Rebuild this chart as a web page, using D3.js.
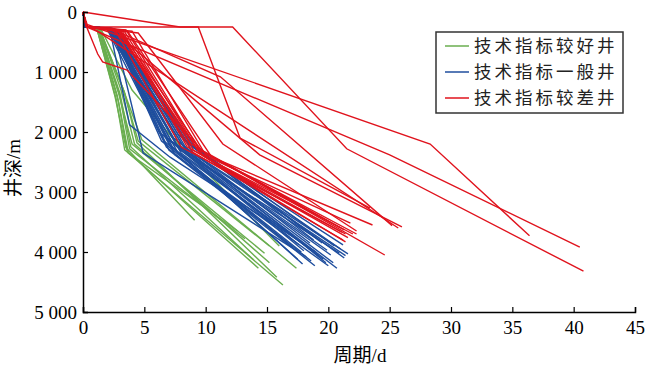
<!DOCTYPE html>
<html>
<head>
<meta charset="utf-8">
<script src="https://cdn.jsdelivr.net/npm/d3@7"></script>
<style>
  html, body { margin: 0; padding: 0; background: #fff; }
  svg { display: block; }
</style>
</head>
<body>
<svg id="chart" width="650" height="372"></svg>
<script>
// ---------- data: [days, depth(m)] ----------
const xTicks = [0, 5, 10, 15, 20, 25, 30, 35, 40, 45];
const yTicks = [0, 1000, 2000, 3000, 4000, 5000];
const yTickLabels = ["0", "1 000", "2 000", "3 000", "4 000", "5 000"];
const seriesNames = ["技术指标较好井", "技术指标一般井", "技术指标较差井"];
const seriesColors = ["#6aae4f", "#1f4e9e", "#e0131d"];

const goodWells = [
  [[0,0],[0.2,250],[1.1,250],[2.7,1450],[3.4,2300],[16.3,4550]],
  [[0,0],[0.2,250],[1.2,250],[2.8,1400],[3.6,2320],[14.3,4270]],
  [[0,0],[0.2,250],[1.2,250],[3.0,1350],[3.9,2250],[13.9,4130]],
  [[0,0],[0.2,250],[1.3,250],[3.1,1300],[4.2,2200],[15.2,4180]],
  [[0,0],[0.2,250],[1.3,250],[3.3,1300],[4.5,2150],[15.2,3900]],
  [[0,0],[0.2,250],[1.2,250],[3.2,1250],[4.8,2130],[17.4,4270]],
  [[0,0],[0.2,250],[1.1,250],[2.6,1400],[3.5,2260],[9.1,3470]],
  [[0,0],[0.2,250],[1.2,250],[3.0,1400],[3.8,2280],[13.2,3780]],
  [[0,0],[0.2,250],[1.4,260],[4.0,1300],[7.3,2100],[16.0,3900]],
  [[0,0],[0.2,250],[1.2,250],[2.9,1350],[4.0,2200],[14.8,4020]],
  [[0,0],[0.2,250],[1.3,250],[3.4,1350],[4.4,2180],[15.8,4420]],
  [[0,0],[0.2,250],[1.1,250],[2.9,1500],[3.7,2350],[12.6,3650]]
];

const normalWells = [
  [[0,0],[0.2,250],[1.8,270],[2.0,300],[6.6,2150],[17.1,3930]],
  [[0,0],[0.2,250],[1.9,270],[2.2,300],[7.0,2200],[17.5,4120]],
  [[0,0],[0.2,250],[1.8,260],[2.1,290],[7.3,2250],[17.9,4200]],
  [[0,0],[0.2,250],[2.0,270],[2.3,310],[7.6,2200],[19.9,3970]],
  [[0,0],[0.2,250],[2.1,270],[2.4,300],[7.9,2300],[20.9,4020]],
  [[0,0],[0.2,250],[2.2,270],[2.5,320],[8.2,2250],[21.6,4030]],
  [[0,0],[0.2,250],[1.9,270],[2.2,300],[8.0,2350],[19.6,4120]],
  [[0,0],[0.2,250],[2.2,270],[2.6,300],[8.5,2300],[19.8,4180]],
  [[0,0],[0.2,250],[1.8,260],[2.0,280],[8.7,2400],[20.7,4270]],
  [[0,0],[0.2,250],[2.0,270],[2.3,300],[7.2,2150],[20.2,4050]],
  [[0,0],[0.2,250],[2.1,270],[2.4,310],[7.4,2100],[18.5,3850]],
  [[0,0],[0.2,250],[1.8,270],[2.1,300],[6.9,2100],[17.6,3880]],
  [[0,0],[0.2,250],[1.9,270],[2.2,300],[3.8,1880],[7.1,2420],[19.0,4000]],
  [[0,0],[0.2,250],[2.2,270],[2.5,300],[4.9,2350],[18.2,4080]],
  [[0,0],[0.2,250],[2.3,270],[2.6,320],[9.0,2250],[21.0,3950]],
  [[0,0],[0.2,250],[2.4,270],[2.7,300],[9.3,2300],[21.2,3880]],
  [[0,0],[0.2,250],[1.9,270],[2.2,290],[8.3,2150],[19.5,3850]],
  [[0,0],[0.2,250],[2.1,270],[2.4,300],[7.8,2050],[18.8,3800]],
  [[0,0],[0.2,250],[2.0,270],[2.3,300],[8.8,2200],[20.5,3900]],
  [[0,0],[0.2,250],[2.2,270],[2.5,310],[6.2,2000],[18.0,3980]],
  [[0,0],[0.2,250],[2.0,270],[2.4,300],[7.5,2380],[20.0,4230]],
  [[0,0],[0.2,250],[1.9,270],[2.3,290],[6.8,2250],[18.6,4150]],
  [[0,0],[0.2,250],[2.3,270],[2.7,320],[8.6,2200],[21.3,4100]],
  [[0,0],[0.2,250],[2.1,270],[2.5,300],[8.1,2280],[20.4,4180]],
  [[0,0],[0.2,250],[1.8,270],[2.1,300],[7.7,2330],[19.2,4060]],
  [[0,0],[0.2,250],[2.2,270],[2.6,300],[9.1,2380],[21.4,4060]],
  [[0,0],[0.2,250],[2.0,270],[2.4,310],[6.4,2150],[17.8,4000]],
  [[0,0],[0.2,250],[2.1,270],[2.5,300],[7.0,2300],[18.9,4230]]
];

const poorWells = [
  [[0,0],[0.4,250],[12.2,250],[21.5,2280],[40.8,4320]],
  [[0,0],[7.9,250],[9.4,250],[12.8,2100],[23.4,3270]],
  [[0,0],[0.2,200],[28.3,2200],[36.4,3730]],
  [[0,0],[0.3,250],[25.0,2380],[40.5,3920]],
  [[0,0],[0.3,250],[2.2,270],[14.4,2380],[26.0,3580]],
  [[0,0],[0.3,250],[0.8,270],[25.7,3600]],
  [[0,0],[0.3,250],[4.5,350],[11.4,2200],[22.3,3650]],
  [[0,0],[0.3,250],[2.4,290],[11.2,1080],[25.2,3560]],
  [[0,0],[0.3,250],[1.2,700],[1.6,830],[3.6,970],[9.9,2350],[22.3,3700]],
  [[0,0],[0.3,250],[3.0,300],[8.5,2250],[21.1,3670]],
  [[0,0],[0.3,250],[3.2,320],[9.0,2300],[21.4,3830]],
  [[0,0],[0.3,250],[2.8,300],[9.5,2350],[21.8,3520]],
  [[0,0],[0.3,250],[3.5,300],[9.8,2400],[22.0,3700]],
  [[0,0],[0.3,250],[3.0,330],[8.8,2200],[21.3,3630]],
  [[0,0],[0.3,250],[4.0,320],[10.2,2450],[21.6,3760]],
  [[0,0],[0.3,250],[3.3,300],[9.3,2280],[21.0,3600]],
  [[0,0],[0.3,250],[2.6,290],[8.0,2250],[21.4,3700]],
  [[0,0],[0.3,250],[3.6,310],[10.5,2420],[23.6,3550]],
  [[0,0],[0.3,250],[3.0,300],[9.6,2300],[24.6,4050]],
  [[0,0],[0.3,250],[2.9,310],[8.9,2330],[21.2,3800]]
];

// ---------- layout ----------
const svg = d3.select("#chart");
const latinFont = "'Liberation Serif', 'Times New Roman', 'Noto Sans CJK SC', serif";
const x = d3.scaleLinear().domain([0, 45]).range([83, 635]);
const y = d3.scaleLinear().domain([0, 5000]).range([12, 312]);

const line = d3.line().x(d => x(d[0])).y(d => y(d[1]));

const groups = [goodWells, normalWells, poorWells];
groups.forEach((wells, gi) => {
  svg.append("g")
    .selectAll("path")
    .data(wells)
    .join("path")
    .attr("d", line)
    .attr("fill", "none")
    .attr("stroke", seriesColors[gi])
    .attr("stroke-width", 1.4)
    .attr("stroke-linejoin", "miter");
});

// axes
const xAxis = d3.axisBottom(x).tickValues(xTicks).tickSize(-5).tickPadding(9).tickFormat(d3.format("d"));
const gx = svg.append("g").attr("transform", `translate(0,${y(5000)})`).call(xAxis);
const yAxis = d3.axisLeft(y).tickValues(yTicks).tickSize(-5).tickPadding(6)
  .tickFormat((d, i) => yTickLabels[i]);
const gy = svg.append("g").attr("transform", `translate(${x(0)},0)`).call(yAxis);

[gx, gy].forEach(g => {
  g.select(".domain").attr("stroke", "#000").attr("stroke-width", 1.5);
  g.selectAll(".tick line").attr("stroke", "#000").attr("stroke-width", 1.2);
  g.selectAll(".tick text").attr("fill", "#000").style("font-family", latinFont).style("font-size", "19px");
});

// axis titles
svg.append("text")
  .attr("x", 360).attr("y", 362)
  .attr("text-anchor", "middle")
  .style("font-family", latinFont).style("font-size", "19px")
  .text("周期/d");

svg.append("text")
  .attr("transform", "translate(20,168) rotate(-90)")
  .attr("text-anchor", "middle")
  .style("font-family", latinFont).style("font-size", "19px")
  .text("井深/m");

// legend
const lg = svg.append("g");
lg.append("rect")
  .attr("x", 436).attr("y", 32).attr("width", 187).attr("height", 81)
  .attr("fill", "#fff").attr("stroke", "#333").attr("stroke-width", 1.5);
seriesNames.forEach((name, i) => {
  const yy = 46 + i * 26;
  lg.append("line")
    .attr("x1", 445).attr("x2", 469).attr("y1", yy).attr("y2", yy)
    .attr("stroke", seriesColors[i]).attr("stroke-width", 1.5);
  lg.append("text")
    .attr("x", 474).attr("y", yy).attr("dy", "0.36em")
    .style("font-family", "'Noto Sans CJK SC', sans-serif").style("font-size", "17.5px")
    .style("letter-spacing", "3px")
    .attr("fill", "#222")
    .text(name);
});
</script>
</body>
</html>
